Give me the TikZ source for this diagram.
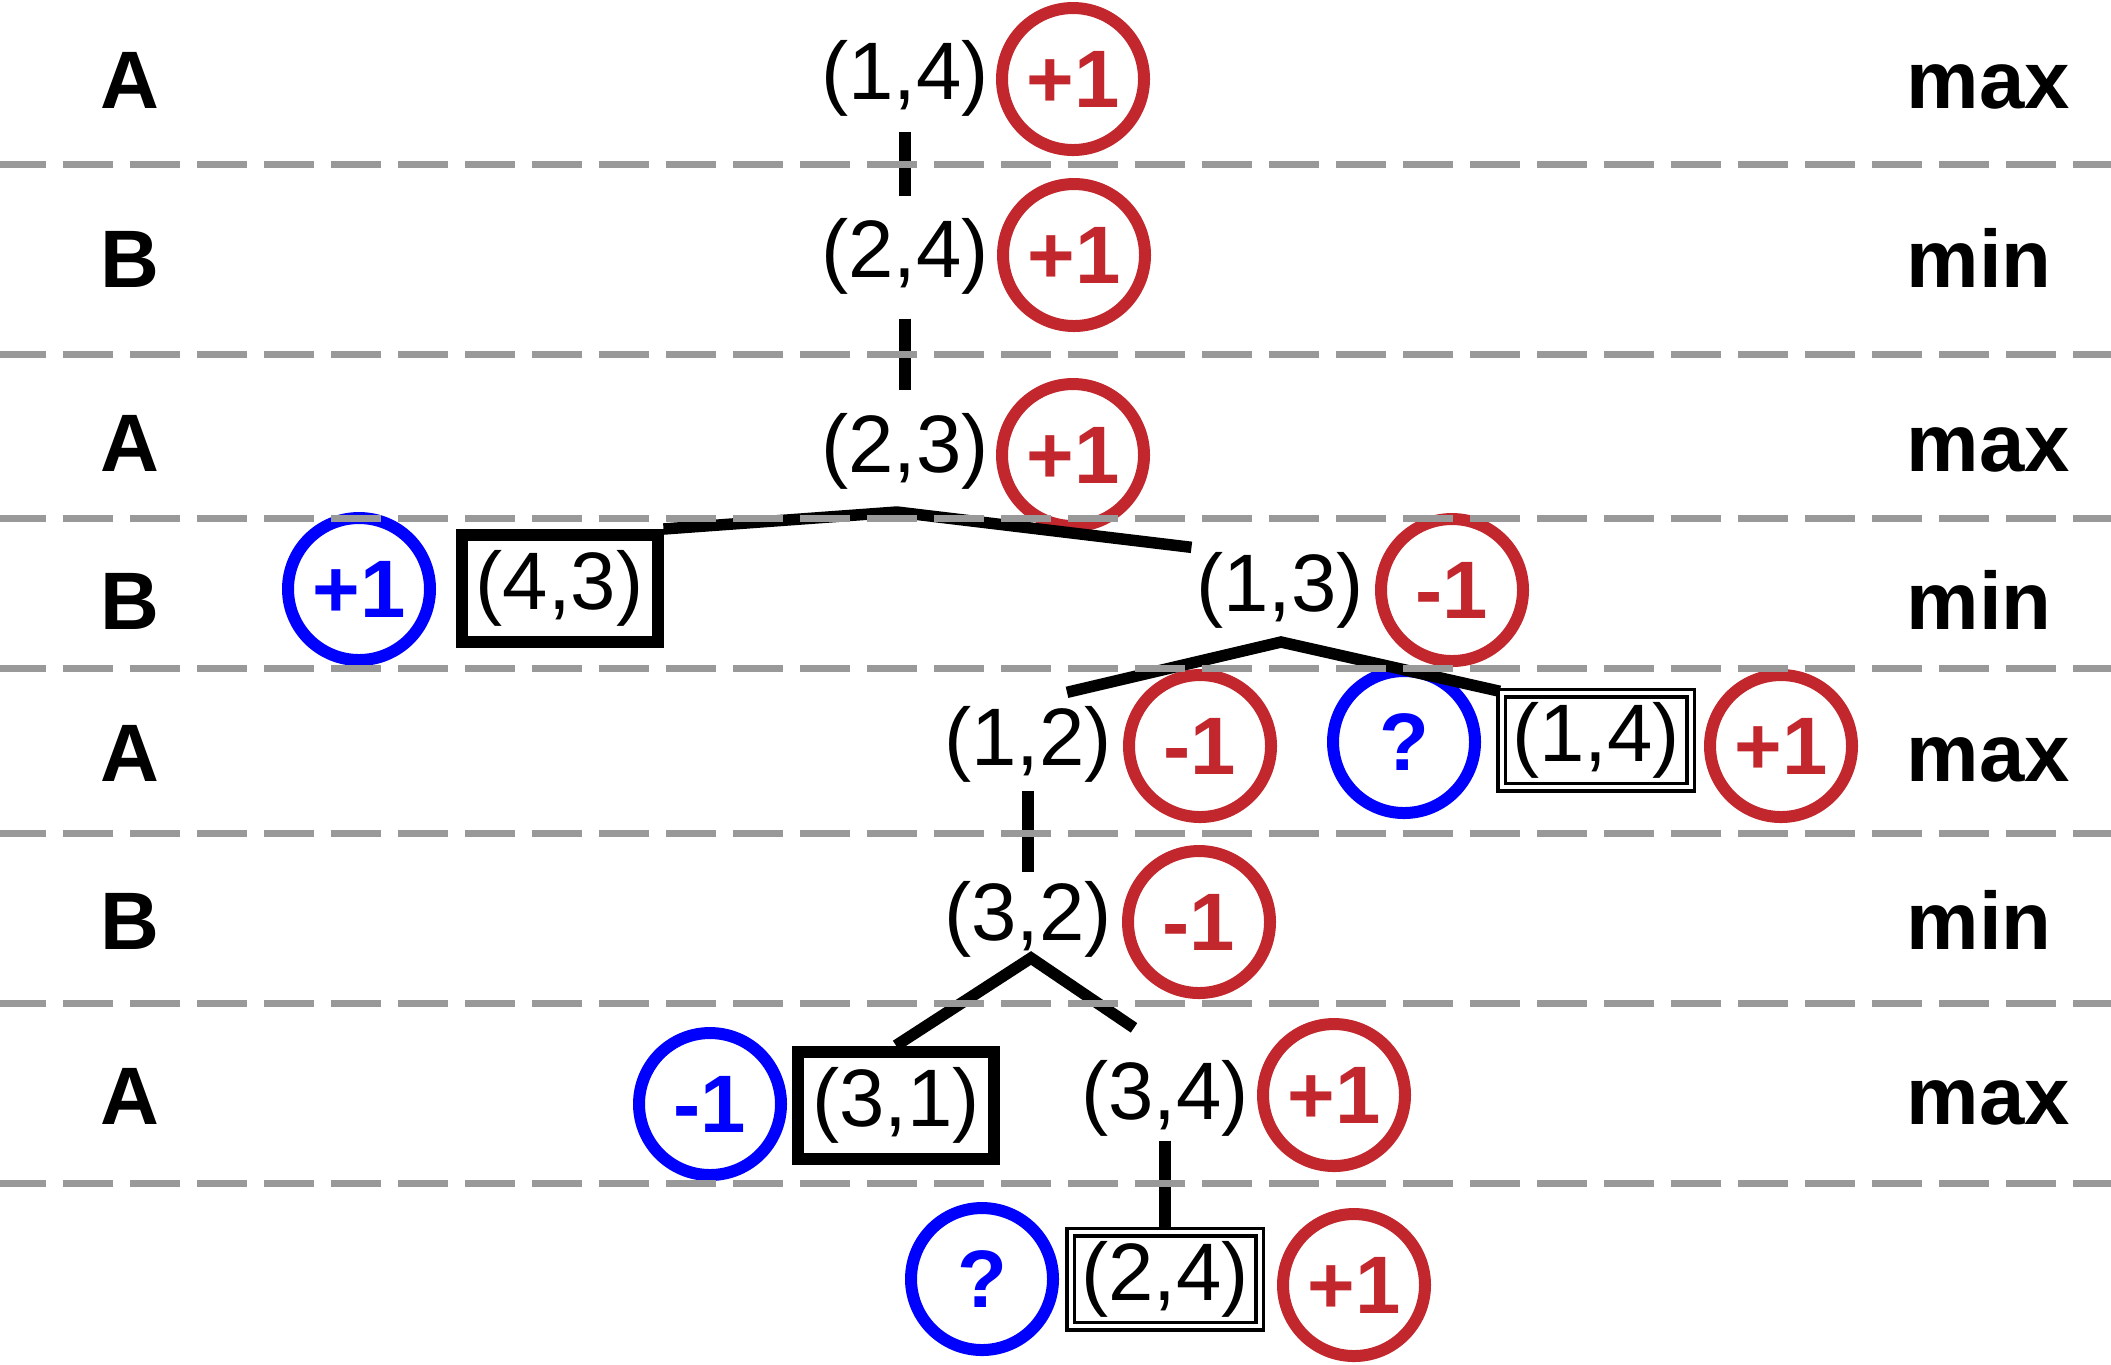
\documentclass[tikz,border=0pt]{standalone}
\usepackage{fontspec}
\setmainfont{Liberation Sans}
\usepackage{xcolor}
\usepackage{tikz}
\usetikzlibrary{calc}
\definecolor{winred}{RGB}{193,39,45}
\definecolor{guessblue}{RGB}{0,0,255}
\definecolor{rulegray}{RGB}{153,153,153}
\tikzset{
  cell/.style={font=\fontsize{23.2}{28}\selectfont, inner sep=0.04cm},
  termbox/.style={cell, draw, line width=0.12cm, minimum width=1.96cm, minimum height=1.07cm},
  openbox/.style={cell, draw, double, line width=0.035cm, double distance=0.04cm,
                  minimum width=1.89cm, minimum height=0.94cm},
  val/.style={circle, draw=winred, text=winred, line width=0.12cm, minimum size=1.42cm,
              inner sep=0pt, font=\fontsize{23.2}{28}\selectfont\bfseries},
  est/.style={val, draw=guessblue, text=guessblue},
  player/.style={anchor=base west, inner sep=0pt, font=\fontsize{23.2}{28}\selectfont\bfseries},
  link/.style={line width=0.115cm, black},
  divider/.style={rulegray, line width=0.07cm, dash pattern=on 0.5cm off 0.17cm},
}

\begin{document}
\begin{tikzpicture}
\useasboundingbox (0,0) rectangle (21.11,-13.64);

% Gracze i poziomy
\foreach \who/\role/\y [count=\i] in {A/max/1.08, B/min/2.87, A/max/4.71, B/min/6.29, A/max/7.81, B/min/9.49, A/max/11.24}
  {\node[player] (who\i) at (1.0,-\y) {\who};
   \node[player] (role\i) at (19.06,-\y) {\role};}

% Glowna sciezka
\node[cell] (s14) at (9.05,-0.78) {(1,4)};
\node[val] (v14) at (10.73,-0.79) {+1};
\node[cell] (s24) at (9.05,-2.56) {(2,4)};
\node[val] (v24) at (10.74,-2.55) {+1};
\node[cell] (s23) at (9.05,-4.51) {(2,3)};
\node[val] (v23) at (10.73,-4.55) {+1};

% Poziom B
\node[est] (e43) at (3.59,-5.89) {+1};
\node[termbox] (s43) at (5.595,-5.885) {(4,3)};
\node[cell] (s13) at (12.80,-5.90) {(1,3)};
\node[val] (v13) at (14.52,-5.90) {-1};

% Poziom A
\node[cell] (s12) at (10.28,-7.44) {(1,2)};
\node[val] (v12) at (12.00,-7.46) {-1};
\node[est] (e14) at (14.04,-7.42) {?};
\node[openbox] (s14b) at (15.96,-7.40) {(1,4)};
\node[val] (v14b) at (17.81,-7.46) {+1};

% Poziom B
\node[cell] (s32) at (10.28,-9.19) {(3,2)};
\node[val] (v32) at (11.99,-9.22) {-1};

% Poziom A
\node[est] (e31) at (7.10,-11.04) {-1};
\node[termbox] (s31) at (8.96,-11.05) {(3,1)};
\node[cell] (s34) at (11.65,-10.98) {(3,4)};
\node[val] (v34) at (13.34,-10.95) {+1};

% Ostatni poziom
\node[est] (e24) at (9.82,-12.79) {?};
\node[openbox] (s24b) at (11.65,-12.79) {(2,4)};
\node[val] (v24b) at (13.54,-12.85) {+1};

% Rozgalezienia
\coordinate (j23) at (8.97,-5.12);
\coordinate (j13) at (12.81,-6.42);
\coordinate (j32) at (10.31,-9.58);

\draw[link, shorten <=0.11cm, shorten >=0.17cm] (s14) -- (s24);
\draw[link, shorten <=0.2cm, shorten >=0.18cm] (s24) -- (s23);
\draw[link] (s43.north east) -- (j23) -- (s13.north west);
\draw[link] ($(s12.north)+(0.39,0.09)$) -- (j13) -- (s14b.north west);
\draw[link, shorten <=0.04cm, shorten >=0.04cm] (s12) -- (s32);
\draw[link] (s31.north) -- (j32) -- ($(s34.north)+(-0.31,0.275)$);
\draw[link] (s34) -- (s24b);

% Linie przerywane
\foreach \y in {1.64,3.54,5.18,6.68,8.33,10.03,11.83}
  \draw[divider] (-0.04,-\y) -- (21.2,-\y);

\end{tikzpicture}
\end{document}
